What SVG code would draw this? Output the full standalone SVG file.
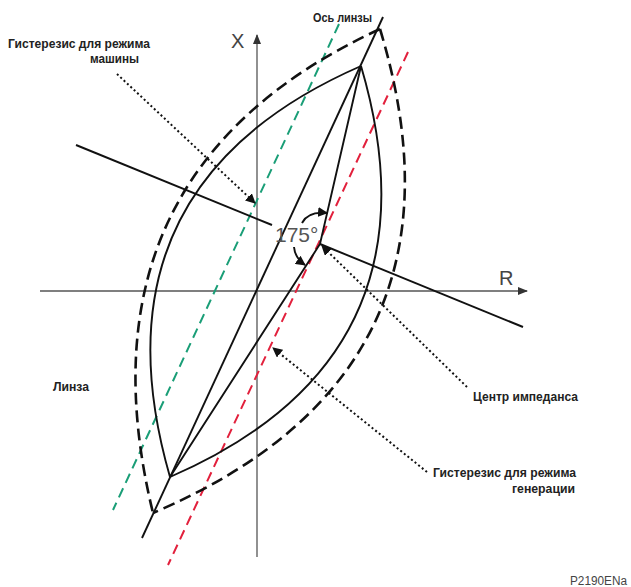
<svg xmlns="http://www.w3.org/2000/svg" width="631" height="587" viewBox="0 0 631 587">
<style>
.t{font-family:"Liberation Sans",Arial,sans-serif;font-size:12px;fill:#222;font-weight:bold}
.ax{stroke:#555;stroke-width:1.3;fill:none}
.s{stroke:#111;stroke-width:1.9;fill:none}
.d{stroke:#111;stroke-width:2.6;fill:none;stroke-dasharray:12,6}
.red{stroke:#e2203c;stroke-width:2;fill:none;stroke-dasharray:10,6}
.grn{stroke:#1a9e77;stroke-width:2;fill:none;stroke-dasharray:10,6}
.dot{stroke:#111;stroke-width:2;fill:none;stroke-dasharray:2,2.6}
</style>
<defs>
<marker id="ah" viewBox="0 0 10 10" refX="9" refY="5" markerWidth="10" markerHeight="10" markerUnits="userSpaceOnUse" orient="auto">
<path d="M0,0 L10,5 L0,10 Z" fill="#111"/>
</marker>
<marker id="axh" viewBox="0 0 10 10" refX="9" refY="5" markerWidth="10" markerHeight="10" markerUnits="userSpaceOnUse" orient="auto">
<path d="M0,1 L10,5 L0,9 Z" fill="#333"/>
</marker>
</defs>
<rect width="631" height="587" fill="#fff"/>
<g id="axes">
<line class="ax" x1="257" y1="557" x2="257" y2="35" marker-end="url(#axh)"/>
<line class="ax" x1="40" y1="291" x2="527" y2="291" marker-end="url(#axh)"/>
<text x="231" y="48" font-family="'Liberation Sans',Arial,sans-serif" font-size="20" fill="#444">X</text>
<text x="499" y="285" font-family="'Liberation Sans',Arial,sans-serif" font-size="20" fill="#444">R</text>
</g>
<g id="colored-lines">
<line class="grn" x1="339" y1="24" x2="113" y2="510"/>
<line class="red" x1="408" y1="52" x2="168" y2="565"/>
</g>
<g id="lens-dashed">
<path class="d" d="M380,29 Q70,172 153,513"/>
<path class="d" d="M380,29 Q484,372 153,513"/>
</g>
<g id="lens-solid">
<path class="s" d="M361,66 Q86,186 170,477"/>
<path class="s" d="M361,66 Q447,357 170,477"/>
</g>
<g id="lens-axis">
<line class="s" x1="383" y1="17" x2="142" y2="538"/>
</g>
<g id="impedance">
<polyline class="s" points="361,66 320,244 170,477"/>
<line class="s" x1="76" y1="145" x2="272" y2="225"/>
<line class="s" x1="320" y1="244" x2="523" y2="327"/>
<path class="s" d="M302,223 Q308,211 327,213" marker-end="url(#ah)"/>
<path class="s" d="M294,247 Q295,258 305,265" marker-end="url(#ah)"/>
<text x="275" y="242" font-family="'Liberation Sans',Arial,sans-serif" font-size="21" fill="#555">175°</text>
</g>
<g id="connectors">
<line class="dot" x1="117" y1="74" x2="255" y2="203" marker-end="url(#ah)"/>
<line class="dot" x1="467" y1="387" x2="322" y2="246" marker-end="url(#ah)"/>
<line class="dot" x1="427" y1="472" x2="273" y2="348" marker-end="url(#ah)"/>
</g>
<g id="labels">
<text class="t" x="8" y="48" textLength="142" lengthAdjust="spacingAndGlyphs">Гистерезис для режима</text>
<text class="t" x="90" y="63" textLength="49" lengthAdjust="spacingAndGlyphs">машины</text>
<text class="t" x="313" y="22" textLength="59" lengthAdjust="spacingAndGlyphs">Ось линзы</text>
<text class="t" x="53" y="391" textLength="36" lengthAdjust="spacingAndGlyphs">Линза</text>
<text class="t" x="473" y="401" textLength="105" lengthAdjust="spacingAndGlyphs">Центр импеданса</text>
<text class="t" x="433" y="477" textLength="143" lengthAdjust="spacingAndGlyphs">Гистерезис для режима</text>
<text class="t" x="512" y="493" textLength="63" lengthAdjust="spacingAndGlyphs">генерации</text>
<text x="570" y="585" font-family="'Liberation Sans',Arial,sans-serif" font-size="12" fill="#444" textLength="57" lengthAdjust="spacingAndGlyphs">P2190ENa</text>
</g>
</svg>
